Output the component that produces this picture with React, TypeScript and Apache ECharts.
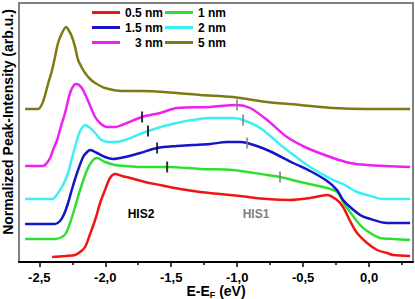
import React, { useEffect, useRef } from "react";
import * as echarts from "echarts";

// Energy (eV) and normalized intensity (arb.u.) per film thickness
const e05 = [-2.403,-2.305,-2.229,-2.191,-2.153,-2.115,-2.077,-2.039,-2.002,-1.964,-1.926,-1.873,-1.812,-1.698,-1.585,-1.433,-1.281,-1.13,-0.978,-0.773,-0.599,-0.447,-0.318,-0.243,-0.197,-0.144,-0.091,-0.015,0.061,0.136,0.182,0.311];
const i05 = [5,6,7,10,15,28,42,59,72,84,88,86,84,80,77,73,70,68,66,63,62,64,67,62,55,41,29,19,12,9,7,6];

const e1 = [-2.608,-2.381,-2.328,-2.297,-2.267,-2.229,-2.191,-2.138,-2.093,-2.062,-2.002,-1.926,-1.85,-1.736,-1.531,-1.281,-1.031,-0.773,-0.675,-0.523,-0.349,-0.243,-0.197,-0.144,-0.068,-0.015,0.083,0.182,0.311];
const i1 = [23,23,25,29,39,55,72,92,102,104,100,97,96,95,95,93,92,87,85,80,75,70,60,50,37,31,24,23,22];

const e15 = [-2.608,-2.381,-2.343,-2.312,-2.282,-2.252,-2.214,-2.168,-2.138,-2.115,-2.062,-2.002,-1.941,-1.85,-1.736,-1.607,-1.456,-1.334,-1.205,-1.077,-0.978,-0.925,-0.773,-0.576,-0.447,-0.318,-0.243,-0.197,-0.144,-0.068,-0.015,0.136,0.311];
const i15 = [38,38,41,48,59,73,89,105,110,112,109,105,103,105,109,114,116,117,118,120,120,119,112,99,91,81,72,62,55,47,44,39,39];

const e2 = [-2.608,-2.403,-2.358,-2.32,-2.282,-2.252,-2.214,-2.191,-2.153,-2.115,-2.077,-2.039,-1.986,-1.926,-1.85,-1.676,-1.456,-1.205,-1.031,-0.955,-0.826,-0.652,-0.447,-0.273,-0.197,-0.091,-0.015,0.106,0.311];
const i2 = [63,63,69,77,89,104,122,131,137,134,129,123,120,120,122,131,139,144,144,142,134,115,95,82,78,70,67,63,63];

const e3 = [-2.608,-2.479,-2.456,-2.418,-2.396,-2.365,-2.335,-2.305,-2.267,-2.237,-2.214,-2.191,-2.168,-2.123,-2.077,-2.032,-1.986,-1.926,-1.873,-1.721,-1.585,-1.456,-1.205,-1.001,-0.902,-0.773,-0.622,-0.47,-0.273,-0.144,-0.015,0.311];
const i3 = [96,96,97,104,112,122,136,149,169,177,178,176,172,159,145,138,135,135,137,145,149,154,155,157,154,142,125,114,104,99,97,95];

const e5 = [-2.608,-2.509,-2.479,-2.456,-2.434,-2.403,-2.381,-2.358,-2.328,-2.297,-2.274,-2.252,-2.229,-2.206,-2.176,-2.153,-2.115,-2.077,-2.002,-1.873,-1.736,-1.456,-1.281,-1.031,-0.773,-0.523,-0.273,-0.015,0.311];
const i5 = [153,153,158,167,178,192,205,219,229,235,231,225,215,202,194,189,183,179,174,171,171,169,167,165,160,157,154,153,153];

// HIS2 / HIS1 peak markers
const his2E = [-1.721, -1.676, -1.607, -1.531];
const his2I = [145, 131, 114, 95];
const his1E = [-1.001, -0.955, -0.925, -0.675];
const his1I = [157, 142, 119, 85];

const majorTicks = [-2.5, -2.0, -1.5, -1.0, -0.5, 0.0];
const minorTicks = [-2.25, -1.75, -1.25, -0.75, -0.25, 0.25];

const seriesDefs = [
  { name: "0.5 nm", color: "#f01414", e: e05, i: i05 },
  { name: "1 nm", color: "#2ee02e", e: e1, i: i1 },
  { name: "1.5 nm", color: "#1414c8", e: e15, i: i15 },
  { name: "2 nm", color: "#3cf0f0", e: e2, i: i2 },
  { name: "3 nm", color: "#f020f0", e: e3, i: i3 },
  { name: "5 nm", color: "#7d7a14", e: e5, i: i5 },
];

const XMIN = -2.654;
const XMAX = 0.333;

export default function App() {
  const ref = useRef<HTMLDivElement>(null);
  useEffect(() => {
    if (!ref.current) return;
    const chart = echarts.init(ref.current, null, { renderer: "svg" });
    const font = "'Liberation Sans', Arial, sans-serif";
    const zip = (a: number[], b: number[]) => a.map((v, k) => [v, b[k]]);
    const legendCommon = {
      orient: "vertical" as const,
      top: 5,
      padding: 0,
      itemWidth: 28,
      itemHeight: 3,
      itemGap: 0,
      icon: "rect",
      textStyle: { fontFamily: font, fontWeight: "bold" as const, fontSize: 12, color: "#000", lineHeight: 15 },
    };
    chart.setOption({
      animation: false,
      backgroundColor: "#fff",
      grid: {
        left: 19, right: 2, top: 3, bottom: 37, show: true,
        borderColor: "#808080", borderWidth: 2, backgroundColor: "transparent",
        outerBoundsMode: "none", containLabel: false,
      },
      legend: [
        { ...legendCommon, left: 92, data: ["0.5 nm", "1.5 nm", "3 nm"], formatter: (n: string) => (n === "3 nm" ? "   3 nm" : n) },
        { ...legendCommon, left: 165, data: ["1 nm", "2 nm", "5 nm"] },
      ],
      xAxis: [
        {
          type: "value",
          min: XMIN,
          max: XMAX,
          name: "E-E{s|F} (eV)",
          nameLocation: "middle",
          nameGap: 21,
          nameMoveOverlap: false,
          nameTextStyle: {
            fontFamily: font, fontWeight: "bold", fontSize: 14, color: "#000",
            rich: { s: { fontFamily: font, fontWeight: "bold", fontSize: 9, color: "#000", padding: [7, 0, 0, 0] } },
          },
          axisLine: { show: true, onZero: false, lineStyle: { color: "#000", width: 2 } },
          axisTick: { show: true, customValues: majorTicks, length: 5, lineStyle: { color: "#000", width: 1.5 } },
          axisLabel: {
            customValues: majorTicks,
            margin: 9,
            lineHeight: 12,
            fontFamily: font, fontWeight: "bold", fontSize: 13, color: "#000",
            formatter: (v: number) => v.toFixed(1).replace(".", ","),
          },
          splitLine: { show: false },
        },
        {
          type: "value",
          min: XMIN,
          max: XMAX,
          position: "bottom",
          axisLine: { show: false },
          axisTick: { show: true, customValues: minorTicks, length: 3, lineStyle: { color: "#000", width: 1.5 } },
          axisLabel: { show: false },
          splitLine: { show: false },
        },
      ],
      yAxis: {
        type: "value",
        min: 0,
        max: 259,
        show: false,
        splitLine: { show: false },
      },
      graphic: [
        {
          type: "text", x: 8, y: 122, rotation: Math.PI / 2,
          style: { text: "Normalized Peak-Intensity (arb.u.)", fontFamily: font, fontWeight: "bold", fontSize: 14, fill: "#000", textAlign: "center", textVerticalAlign: "middle" },
        },
        { type: "text", x: 141, y: 214, style: { text: "HIS2", fontFamily: font, fontWeight: "bold", fontSize: 12, fill: "#000", textAlign: "center", textVerticalAlign: "middle" } },
        { type: "text", x: 256, y: 214, style: { text: "HIS1", fontFamily: font, fontWeight: "bold", fontSize: 12, fill: "#808080", textAlign: "center", textVerticalAlign: "middle" } },
      ],
      series: [
        ...seriesDefs.map((s) => ({
          name: s.name,
          type: "line",
          data: zip(s.e, s.i),
          showSymbol: false,
          symbol: "none",
          smooth: 0.3,
          color: s.color,
          lineStyle: { color: s.color, width: 2.5 },
          z: 2,
        })),
        {
          name: "HIS2 marks",
          type: "scatter",
          data: zip(his2E, his2I),
          symbol: "rect",
          symbolSize: [2, 11],
          itemStyle: { color: "#000" },
          z: 5,
        },
        {
          name: "HIS1 marks",
          type: "scatter",
          data: zip(his1E, his1I),
          symbol: "rect",
          symbolSize: [2, 11],
          itemStyle: { color: "#808080" },
          z: 5,
        },
      ],
    });
    return () => chart.dispose();
  }, []);
  return <div ref={ref} style={{ width: 415, height: 299, position: "absolute", left: 0, top: 0 }} />;
}
